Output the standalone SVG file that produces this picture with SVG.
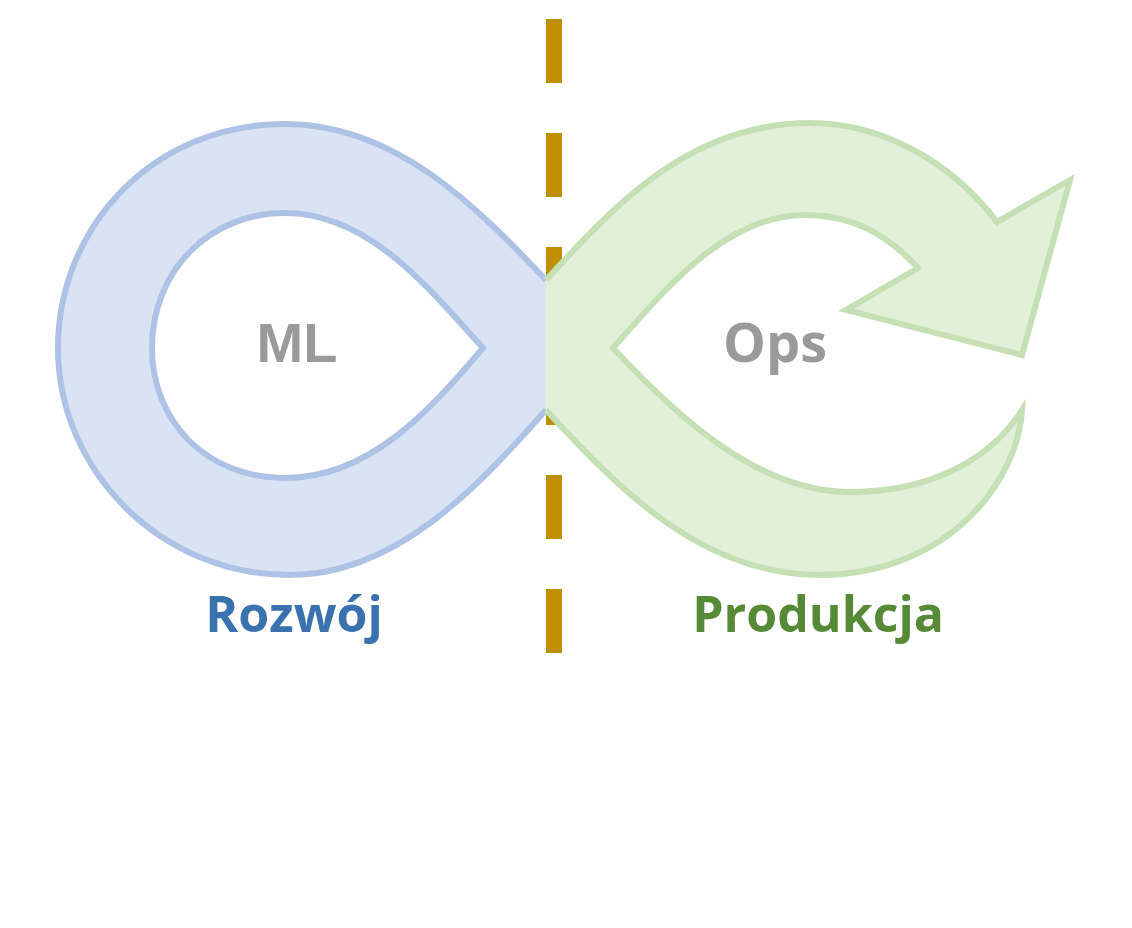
<svg xmlns="http://www.w3.org/2000/svg" width="1132" height="928" viewBox="0 0 1132 928">
<style>
.lbl{font-family:"Open Sans","Liberation Sans",sans-serif;font-weight:700;text-anchor:middle}
.blueFill{fill:#dae3f3;stroke:none}
.blueLine{fill:none;stroke:#adc2e5;stroke-width:6;stroke-linejoin:miter}
.greenFill{fill:#e2efd9;stroke:none}
.greenLine{fill:none;stroke:#c5e0b4;stroke-width:6;stroke-linejoin:miter}
</style>
<rect width="1132" height="928" fill="#ffffff"/>
<g id="divider">
<line x1="554" y1="19" x2="554" y2="660" stroke="#bf8f00" stroke-width="16" stroke-dasharray="64 50"/>
</g>
<g id="ml-loop">
<path class="blueFill" fill-rule="evenodd" d="M546,280 C475,205 395,124 285,124 C150,124 58,230 58,348 C58,470 160,575 290,575 C395,575 475,490 546,410 Z M483,348 C430,290 370,213 285,213 C210,213 152,270 152,348 C152,420 205,478 285,478 C370,478 430,410 483,348 Z"/>
<path class="blueLine" d="M546,280 C475,205 395,124 285,124 C150,124 58,230 58,348 C58,470 160,575 290,575 C395,575 475,490 546,410"/>
<path class="blueLine" d="M483,348 C430,290 370,213 285,213 C210,213 152,270 152,348 C152,420 205,478 285,478 C370,478 430,410 483,348 Z"/>
<text class="lbl" x="297" y="362" font-size="56" fill="#9a9a9a" style="font-family:'Liberation Sans',Arial,sans-serif">ML</text>
</g>
<g id="ops-loop">
<path class="greenFill" d="M546,280 C615,205 690,123 810,123 C880,123 950,160 997,222 L1070,180 L1022,355 L846,310 L918,268 C885,232 850,215 805,215 C725,215 665,290 613,348 C680,420 760,492 850,492 C930,492 990,460 1022,410 C1018,480 950,574 820,575 C700,575 615,485 546,410 Z"/>
<path class="greenLine" d="M546,280 C615,205 690,123 810,123 C880,123 950,160 997,222 L1070,180 L1022,355 L846,310 L918,268 C885,232 850,215 805,215 C725,215 665,290 613,348 C680,420 760,492 850,492 C930,492 990,460 1022,410 C1018,480 950,574 820,575 C700,575 615,485 546,410"/>
<text class="lbl" x="775" y="362" font-size="54" fill="#9a9a9a">Ops</text>
</g>
<g id="labels">
<text class="lbl" x="294" y="632" font-size="50" fill="#3a72b0">Rozwój</text>
<text class="lbl" x="818" y="632" font-size="50" fill="#568a36">Produkcja</text>
</g>
</svg>
